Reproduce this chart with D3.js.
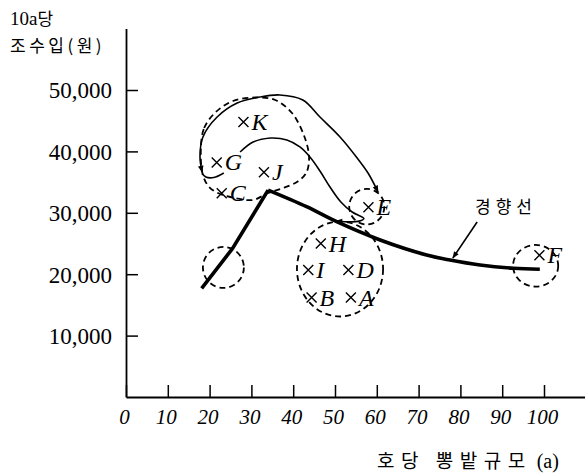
<!DOCTYPE html>
<html><head><meta charset="utf-8">
<script src="https://cdn.jsdelivr.net/npm/d3@7"></script>
<style>body{margin:0;background:#fff}</style>
</head><body><svg id="c" width="585" height="475"></svg>
<script>
// ---- data (x: 호당 뽕밭규모 a, y: 10a당 조수입 원) ----
const farmNames  = ["K","G","J","C","E","H","I","D","B","A","F"];
const farmSize   = [28.1, 21.7, 33.0, 22.9, 58.0, 46.6, 43.6, 53.2, 44.4, 53.8, 98.9];
const farmIncome = [44800, 38200, 36600, 33200, 30900, 25000, 20700, 20700, 16200, 16200, 23100];

// trend line (경향선)
const trendSize   = [18.1, 25.5, 34.0, 43.2, 50.4, 60.8, 71.9, 77.5, 84.7, 92.7, 99.0];
const trendIncome = [17700, 24200, 33700, 31000, 28550, 25570, 23130, 22310, 21500, 20960, 20800];
const trendPeak = 2;

// dashed group circles
const circleSize   = [23.3, 57.6, 51.2, 98.0];
const circleIncome = [21100, 31000, 20850, 21370];
const circleRSize  = [4.9, 4.2, 10.3, 5.4];
const circleRIncome= [3340, 2900, 7740, 3390];

// dashed group around K, G, J, C
const grpSize   = [17.9, 18.7, 21.5, 25.6, 30.9, 35.7, 39.7, 42.8, 43.8, 43.1, 40.9, 37.6, 34.0, 30.4, 26.1, 22.5, 19.9, 18.4];
const grpIncome = [40230, 43810, 46420, 48210, 48780, 48370, 46260, 42180, 38930, 36480, 35020, 34040, 33230, 32090, 32410, 33060, 34200, 36160];

// movement arrows
const moveASize   = [32.1, 26.6, 21.8, 18.4, 17.7, 18.2];
const moveAIncome = [48860, 47880, 45600, 42350, 39090, 36650];
const hookSize    = [18.2, 19.1, 21.0, 23.4];
const hookIncome  = [36400, 35830, 35750, 36480];
const moveBSize   = [32.1, 36.8, 42.3, 46.4, 51.2, 55.3, 57.9, 60.3];
const moveBIncome = [48860, 49190, 48370, 45600, 42350, 38930, 36480, 33390];
const moveCSize   = [27.3, 30.4, 34.5, 38.5, 41.6, 44.0, 46.4, 48.8, 51.4, 54.1, 56.9, 55.5, 50.2];
const moveCIncome = [39900, 41530, 42180, 41860, 40720, 39090, 36810, 34200, 31760, 30130, 29070, 28600, 28670];

// label arrow for 경향선
const noteSize   = [84.0, 78.2];
const noteIncome = [28500, 22640];

const xTicks = [0,10,20,30,40,50,60,70,80,90,100];
const yTicks = [10000,20000,30000,40000,50000];

// ---- drawing ----
const svg = d3.select("#c");
svg.append("rect").attr("width",585).attr("height",475).attr("fill","#fff");
const x = d3.scaleLinear().domain([0,110]).range([126,585.8]);
const y = d3.scaleLinear().domain([0,60000]).range([397,28.6]);

const defs = svg.append("defs");
defs.append("marker").attr("id","arr").attr("viewBox","0 -5 10 10")
  .attr("refX",9).attr("refY",0).attr("markerWidth",9).attr("markerHeight",7)
  .attr("markerUnits","userSpaceOnUse").attr("orient","auto")
  .append("path").attr("d","M0,-4L10,0L0,4Z").attr("fill","#000");

const serif = "'Liberation Serif','DejaVu Serif',serif";
const kr = "'Noto Sans CJK KR','Noto Sans',sans-serif";

// axes
const yAxis = d3.axisLeft(y).tickValues(yTicks).tickSizeInner(-12).tickSizeOuter(0)
  .tickPadding(14).tickFormat(d3.format(","));
const gy = svg.append("g").attr("transform",`translate(${x(0)},0)`).call(yAxis);
gy.select(".domain").attr("stroke","#000").attr("stroke-width",1.8);
gy.selectAll(".tick line").attr("stroke","#000").attr("stroke-width",1.5);
gy.selectAll(".tick text").attr("font-family",serif).attr("font-size",23)
  .attr("fill","#000").attr("dy","0.34em");

const xAxis = d3.axisBottom(x).tickValues(xTicks).tickSizeInner(-12).tickSizeOuter(0).tickPadding(12);
const gx = svg.append("g").attr("transform",`translate(0,${y(0)})`).call(xAxis);
gx.select(".domain").attr("stroke","#000").attr("stroke-width",1.8);
gx.selectAll(".tick line").attr("stroke","#000").attr("stroke-width",1.5);
gx.selectAll(".tick text").attr("font-family",serif).attr("font-style","italic")
  .attr("font-size",21).attr("fill","#000").attr("dx",-2).attr("dy","0.71em");

// axis titles
const t1 = svg.append("text").attr("x",10).attr("y",25).attr("fill","#000");
t1.append("tspan").attr("font-family",serif).attr("font-size",19).text("10a");
t1.append("tspan").attr("font-family",kr).attr("font-size",17).text("당");
svg.append("text").attr("x",10).attr("y",52).attr("fill","#000").attr("font-family",kr)
  .attr("font-size",17).attr("letter-spacing",3.5).text("조수입(원)");
const t2 = svg.append("text").attr("x",377).attr("y",468).attr("fill","#000");
t2.append("tspan").attr("font-family",kr).attr("font-size",19).attr("letter-spacing",6.5).text("호당 뽕밭규모");
t2.append("tspan").attr("font-family",serif).attr("font-size",20).text(" (a)");

const dash = "6,4";
// dashed circles
circleSize.forEach((cx,i)=>{
  svg.append("ellipse").attr("cx",x(cx)).attr("cy",y(circleIncome[i]))
    .attr("rx",x(cx+circleRSize[i])-x(cx)).attr("ry",y(0)-y(circleRIncome[i]))
    .attr("fill","none").attr("stroke","#000").attr("stroke-width",1.8).attr("stroke-dasharray",dash);
});
const pts = (xs,ys)=>xs.map((v,i)=>[x(v),y(ys[i])]);
svg.append("path").attr("d",d3.line().curve(d3.curveCatmullRomClosed)(pts(grpSize,grpIncome)))
  .attr("fill","none").attr("stroke","#000").attr("stroke-width",1.8).attr("stroke-dasharray",dash);

// movement curves
const cr = d3.line().curve(d3.curveCatmullRom);
svg.append("path").attr("d",cr(pts(moveASize,moveAIncome))).attr("fill","none")
  .attr("stroke","#000").attr("stroke-width",1.6).attr("marker-end","url(#arr)");
svg.append("path").attr("d",cr(pts(hookSize,hookIncome))).attr("fill","none")
  .attr("stroke","#000").attr("stroke-width",1.6);
svg.append("path").attr("d",cr(pts(moveBSize,moveBIncome))).attr("fill","none")
  .attr("stroke","#000").attr("stroke-width",1.6).attr("marker-end","url(#arr)");
svg.append("path").attr("d",cr(pts(moveCSize,moveCIncome))).attr("fill","none")
  .attr("stroke","#000").attr("stroke-width",1.6).attr("marker-end","url(#arr)");

// trend line
const tp = pts(trendSize,trendIncome);
svg.append("path").attr("d",d3.line()(tp.slice(0,trendPeak+1))).attr("fill","none")
  .attr("stroke","#000").attr("stroke-width",3.6).attr("stroke-linejoin","round");
svg.append("path").attr("d",d3.line().curve(d3.curveCatmullRom)(tp.slice(trendPeak))).attr("fill","none")
  .attr("stroke","#000").attr("stroke-width",3.6).attr("stroke-linecap","butt");

// 경향선 label
svg.append("text").attr("x",506).attr("y",213).attr("text-anchor","middle")
  .attr("font-family",kr).attr("font-size",17).attr("letter-spacing",5).attr("fill","#000").text("경향선");
svg.append("path").attr("d",d3.line()(pts(noteSize,noteIncome))).attr("fill","none")
  .attr("stroke","#000").attr("stroke-width",1.6).attr("marker-end","url(#arr)");

// farm markers
const g = svg.append("g");
farmNames.forEach((n,i)=>{
  const px = x(farmSize[i]), py = y(farmIncome[i]);
  g.append("path").attr("d",`M${px-5},${py-5}L${px+5},${py+5}M${px-5},${py+5}L${px+5},${py-5}`)
    .attr("stroke","#000").attr("stroke-width",1.4);
  g.append("text").attr("x",px+8).attr("y",py+8).attr("font-family",serif)
    .attr("font-style","italic").attr("font-size",24).attr("fill","#000").text(n);
});
</script></body></html>
